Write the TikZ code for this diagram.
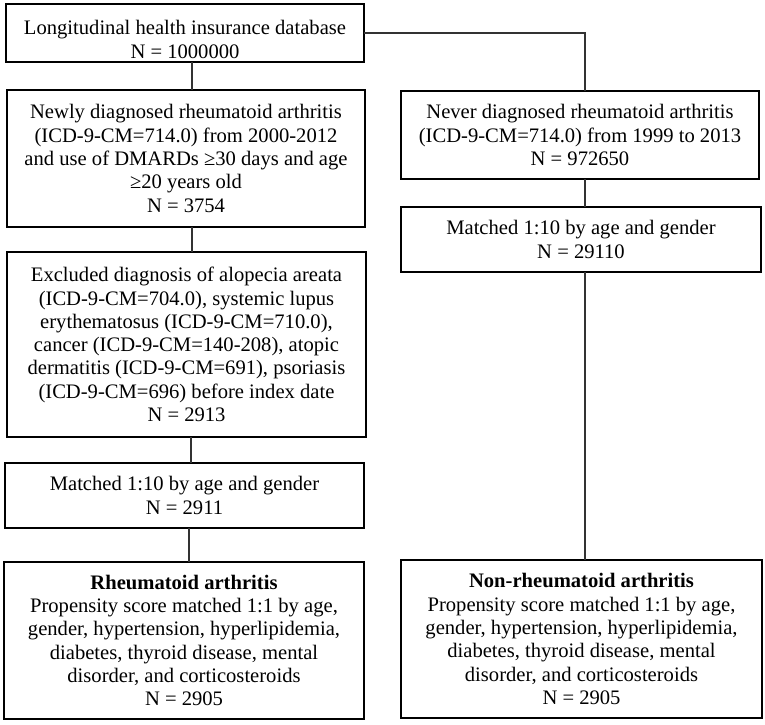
\documentclass[tikz,border=0pt]{standalone}
\usepackage{fontspec}
\setmainfont{Liberation Serif}
\begin{document}
\begin{tikzpicture}[x=1pt,y=-1pt,
  txt/.style={align=center, font=\fontsize{20.6}{23.3}\selectfont},
  box/.style={draw=black, line width=1.1pt, rectangle, inner sep=0pt, outer sep=0pt, txt},
  conn/.style={draw=black!80, line width=1.1pt}]
\useasboundingbox (0,0) rectangle (765,724);
\node[box, minimum width=358pt, minimum height=58pt,
  label={[txt, yshift=-6.5pt]center:Longitudinal health insurance database\\N = 1000000}] (b1) at (185,33) {};
\node[box, minimum width=358pt, minimum height=137pt] (b2) at (186,158.5)
  {Newly diagnosed rheumatoid arthritis\\(ICD-9-CM=714.0) from 2000-2012\\and use of DMARDs ≥30 days and age\\≥20 years old\\N = 3754};
\node[box, minimum width=359pt, minimum height=185pt] (b3) at (186.5,344.5)
  {Excluded diagnosis of alopecia areata\\(ICD-9-CM=704.0), systemic lupus\\erythematosus (ICD-9-CM=710.0),\\cancer (ICD-9-CM=140-208), atopic\\dermatitis (ICD-9-CM=691), psoriasis\\(ICD-9-CM=696) before index date\\N = 2913};
\node[box, minimum width=359pt, minimum height=65pt] (b4) at (184.5,495.5)
  {Matched 1:10 by age and gender\\N = 2911};
\node[box, minimum width=360pt, minimum height=157pt] (b5) at (184,640.5)
  {\textbf{Rheumatoid arthritis}\\Propensity score matched 1:1 by age,\\gender, hypertension, hyperlipidemia,\\diabetes, thyroid disease, mental\\disorder, and corticosteroids\\N = 2905};
\node[box, minimum width=358pt, minimum height=88pt] (r1) at (580,135)
  {Never diagnosed rheumatoid arthritis\\(ICD-9-CM=714.0) from 1999 to 2013\\N = 972650};
\node[box, minimum width=360pt, minimum height=65pt] (r2) at (581,239.5)
  {Matched 1:10 by age and gender\\N = 29110};
\node[box, minimum width=361pt, minimum height=158pt] (r3) at (581.5,639)
  {\textbf{Non-rheumatoid arthritis}\\Propensity score matched 1:1 by age,\\gender, hypertension, hyperlipidemia,\\diabetes, thyroid disease, mental\\disorder, and corticosteroids\\N = 2905};
\draw[conn] ([xshift=7pt]b1.south) -- ([xshift=6pt]b2.north);
\draw[conn] ([xshift=6pt]b2.south) -- ([xshift=5.5pt]b3.north);
\draw[conn] ([xshift=4.5pt]b3.south) -- ([xshift=6.5pt]b4.north);
\draw[conn] ([xshift=4.5pt]b4.south) -- ([xshift=5pt]b5.north);
\draw[conn] (b1.east) -| ([xshift=5pt]r1.north);
\draw[conn] ([xshift=5pt]r1.south) -- ([xshift=4pt]r2.north);
\draw[conn] ([xshift=4pt]r2.south) -- ([xshift=3.5pt]r3.north);
\end{tikzpicture}
\end{document}
